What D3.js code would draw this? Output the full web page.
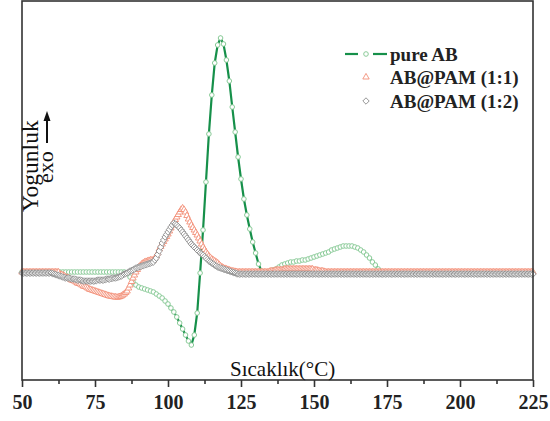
<!DOCTYPE html>
<html><head><meta charset="utf-8">
<script src="https://cdn.jsdelivr.net/npm/d3@7"></script>
<style>body{margin:0;background:#fff}svg{display:block}</style>
</head><body><svg id="c" width="550" height="421"></svg>
<script>
// temperature of first sample and sampling steps (°C)
const tempStart = 50;
const pureStep = 1;
const pamStep = 0.5;
const xTicks = [50, 75, 100, 125, 150, 175, 200, 225];
const xMinorTicks = [62.5, 87.5, 112.5, 137.5, 162.5, 187.5, 212.5];
const seriesNames = ["pure AB", "AB@PAM (1:1)", "AB@PAM (1:2)"];
const xLabel = "Sıcaklık(°C)";
const yLabel = "Yogunluk";
const yLabelSub = "exo";

// pure AB, every 1 °C from 50 to 225
const pureAB = [
  0.01,0.01,0.01,0.01,0.01,0.01,0.01,0.01,0.01,0.01,
  0.01,0.01,0.01,0.01,0.01,0.01,0.01,0.01,0.01,0.01,
  0.01,0.01,0.01,0.01,0.01,0.01,0.01,0.01,0.01,0.01,
  0.01,0.01,0.01,0.01,0.01,0.01,0.0,-0.04,-0.09,-0.12,
  -0.14,-0.15,-0.16,-0.17,-0.18,-0.19,-0.21,-0.23,-0.25,-0.28,
  -0.31,-0.35,-0.39,-0.44,-0.50,-0.56,-0.62,-0.68,-0.72,-0.62,
  -0.40,0.0,0.43,0.91,1.39,1.78,2.10,2.28,2.35,2.29,
  2.13,1.92,1.66,1.41,1.16,0.94,0.74,0.58,0.44,0.31,
  0.20,0.09,0.02,0.0,0.01,0.02,0.03,0.04,0.06,0.08,
  0.09,0.10,0.11,0.11,0.12,0.12,0.13,0.13,0.14,0.15,
  0.16,0.17,0.18,0.19,0.20,0.21,0.23,0.24,0.25,0.26,
  0.27,0.27,0.27,0.27,0.26,0.25,0.23,0.21,0.18,0.15,
  0.11,0.08,0.04,0.01,0,0,0,0,0,0,
  0,0,0,0,0,0,0,0,0,0,
  0,0,0,0,0,0,0,0,0,0,
  0,0,0,0,0,0,0,0,0,0,
  0,0,0,0,0,0,0,0,0,0,
  0,0,0,0,0,0
];
// AB@PAM (1:1), every 0.5 °C from 50 to 225 (one row = 5 °C)
const pam11 = [
  0.01,0.01,0.01,0.01,0.01,0.01,0.01,0.01,0.01,0.01,
  0.01,0.01,0.01,0.01,0.01,0.01,0.01,0.01,0.01,0.01,
  0.01,0.01,0.01,0.01,0.01,0.01,-0.01,-0.015,-0.02,-0.03,
  -0.04,-0.045,-0.05,-0.06,-0.07,-0.075,-0.08,-0.09,-0.10,-0.105,
  -0.11,-0.12,-0.13,-0.135,-0.14,-0.15,-0.16,-0.165,-0.17,-0.175,
  -0.18,-0.185,-0.19,-0.195,-0.20,-0.205,-0.21,-0.215,-0.22,-0.225,
  -0.23,-0.232,-0.235,-0.238,-0.24,-0.242,-0.24,-0.236,-0.23,-0.22,
  -0.21,-0.195,-0.18,-0.15,-0.12,-0.085,-0.05,-0.02,0.01,0.035,
  0.06,0.075,0.09,0.10,0.11,0.115,0.12,0.125,0.13,0.13,
  0.13,0.15,0.17,0.20,0.24,0.265,0.29,0.315,0.34,0.365,
  0.39,0.42,0.45,0.48,0.51,0.535,0.56,0.585,0.61,0.635,
  0.65,0.635,0.61,0.575,0.54,0.51,0.48,0.455,0.43,0.405,
  0.38,0.35,0.32,0.29,0.26,0.235,0.21,0.19,0.17,0.155,
  0.14,0.13,0.12,0.11,0.10,0.085,0.07,0.06,0.05,0.045,
  0.04,0.035,0.03,0.025,0.02,0.018,0.015,0.012,0.01,0.01,
  0.01,0.01,0.01,0.01,0.01,0.01,0.01,0.01,0.01,0.01,
  0.01,0.01,0.01,0.01,0.01,0.01,0.01,0.01,0.01,0.01,
  0.02,0.02,0.02,0.025,0.03,0.03,0.03,0.03,0.03,0.035,
  0.04,0.04,0.04,0.04,0.04,0.04,0.04,0.04,0.04,0.04,
  0.04,0.04,0.04,0.04,0.04,0.04,0.04,0.04,0.04,0.04,
  0.03,0.03,0.03,0.025,0.02,0.02,0.02,0.015,0.01,0.01,
  0.01,0.01,0.01,0.01,0.01,0.01,0.01,0.01,0.01,0.01,
  0.01,0.01,0.01,0.01,0.01,0.01,0.01,0.01,0.01,0.01,
  0.01,0.01,0.01,0.01,0.01,0.01,0.01,0.01,0.01,0.01,
  0.01,0.01,0.01,0.01,0.01,0.01,0.01,0.01,0.01,0.01,
  0.01,0.01,0.01,0.01,0.01,0.01,0.01,0.01,0.01,0.01,
  0.01,0.01,0.01,0.01,0.01,0.01,0.01,0.01,0.01,0.01,
  0.01,0.01,0.01,0.01,0.01,0.01,0.01,0.01,0.01,0.01,
  0.01,0.01,0.01,0.01,0.01,0.01,0.01,0.01,0.01,0.01,
  0.01,0.01,0.01,0.01,0.01,0.01,0.01,0.01,0.01,0.01,
  0.01,0.01,0.01,0.01,0.01,0.01,0.01,0.01,0.01,0.01,
  0.01,0.01,0.01,0.01,0.01,0.01,0.01,0.01,0.01,0.01,
  0.01,0.01,0.01,0.01,0.01,0.01,0.01,0.01,0.01,0.01,
  0.01,0.01,0.01,0.01,0.01,0.01,0.01,0.01,0.01,0.01,
  0.01,0.01,0.01,0.01,0.01,0.01,0.01,0.01,0.01,0.01,
  0.01
];
// AB@PAM (1:2), every 0.5 °C from 50 to 225 (one row = 5 °C)
const pam12 = [
  0,0,0,0,0,0,0,0,0,0,
  0,0,0,0,0,0,0,0,0,0,
  0,-0.005,-0.01,-0.015,-0.02,-0.025,-0.03,-0.035,-0.04,-0.045,
  -0.05,-0.05,-0.05,-0.055,-0.06,-0.06,-0.06,-0.065,-0.07,-0.07,
  -0.07,-0.075,-0.08,-0.08,-0.08,-0.08,-0.08,-0.08,-0.08,-0.08,
  -0.08,-0.075,-0.07,-0.07,-0.07,-0.07,-0.07,-0.065,-0.06,-0.06,
  -0.06,-0.055,-0.05,-0.05,-0.05,-0.045,-0.04,-0.035,-0.03,-0.02,
  -0.01,-0.005,0.0,0.01,0.02,0.025,0.03,0.04,0.05,0.055,
  0.06,0.065,0.07,0.075,0.08,0.085,0.09,0.095,0.10,0.105,
  0.11,0.13,0.15,0.185,0.22,0.26,0.30,0.33,0.36,0.385,
  0.41,0.435,0.46,0.48,0.50,0.49,0.48,0.465,0.45,0.43,
  0.41,0.39,0.37,0.35,0.33,0.31,0.29,0.275,0.26,0.245,
  0.23,0.215,0.20,0.19,0.18,0.165,0.15,0.135,0.12,0.11,
  0.10,0.09,0.08,0.07,0.06,0.055,0.05,0.045,0.04,0.035,
  0.03,0.025,0.02,0.015,0.01,0.005,0.0,-0.005,-0.01,-0.01,
  -0.01,-0.01,-0.01,-0.01,-0.01,-0.01,-0.01,-0.01,-0.01,-0.01,
  -0.01,-0.01,-0.01,-0.01,-0.01,-0.01,-0.01,-0.01,-0.01,-0.01,
  -0.01,-0.01,-0.01,-0.01,-0.01,-0.01,-0.01,-0.01,-0.01,-0.01,
  -0.01,-0.01,-0.01,-0.01,-0.01,-0.01,-0.01,-0.01,-0.01,-0.01,
  -0.01,-0.01,-0.01,-0.01,-0.01,-0.01,-0.01,-0.01,-0.01,-0.01,
  -0.01,-0.01,-0.01,-0.01,-0.01,-0.01,-0.01,-0.01,-0.01,-0.01,
  -0.01,-0.01,-0.01,-0.01,-0.01,-0.01,-0.01,-0.01,-0.01,-0.01,
  -0.01,-0.01,-0.01,-0.01,-0.01,-0.01,-0.01,-0.01,-0.01,-0.01,
  -0.01,-0.01,-0.01,-0.01,-0.01,-0.01,-0.01,-0.01,-0.01,-0.01,
  -0.01,-0.01,-0.01,-0.01,-0.01,-0.01,-0.01,-0.01,-0.01,-0.01,
  -0.01,-0.01,-0.01,-0.01,-0.01,-0.01,-0.01,-0.01,-0.01,-0.01,
  -0.01,-0.01,-0.01,-0.01,-0.01,-0.01,-0.01,-0.01,-0.01,-0.01,
  -0.01,-0.01,-0.01,-0.01,-0.01,-0.01,-0.01,-0.01,-0.01,-0.01,
  -0.01,-0.01,-0.01,-0.01,-0.01,-0.01,-0.01,-0.01,-0.01,-0.01,
  -0.01,-0.01,-0.01,-0.01,-0.01,-0.01,-0.01,-0.01,-0.01,-0.01,
  -0.01,-0.01,-0.01,-0.01,-0.01,-0.01,-0.01,-0.01,-0.01,-0.01,
  -0.01,-0.01,-0.01,-0.01,-0.01,-0.01,-0.01,-0.01,-0.01,-0.01,
  -0.01,-0.01,-0.01,-0.01,-0.01,-0.01,-0.01,-0.01,-0.01,-0.01,
  -0.01,-0.01,-0.01,-0.01,-0.01,-0.01,-0.01,-0.01,-0.01,-0.01,
  -0.01,-0.01,-0.01,-0.01,-0.01,-0.01,-0.01,-0.01,-0.01,-0.01,
  -0.01
];

const svg = d3.select("#c");
const serif = "'Liberation Serif','Times New Roman',serif";
const x = d3.scaleLinear().domain([50, 225]).range([22, 533]);
const y = d3.scaleLinear().domain([-1.07, 2.72]).range([380, 1]);

const toPts = (arr, step) => arr.map((v, i) => ({t: tempStart + i * step, v}));
const green = toPts(pureAB, pureStep), red = toPts(pam11, pamStep), grey = toPts(pam12, pamStep);

const triPath = "M0,-3.6L3.2,2L-3.2,2Z";
const diaPath = "M0,-3.2L3.2,0L0,3.2L-3.2,0Z";

// pure AB: line + open circles
const line = d3.line().x(d => x(d.t)).y(d => y(d.v));
svg.append("path").datum(green).attr("d", line)
  .attr("fill", "none").attr("stroke", "#16904a").attr("stroke-width", 2.2);
svg.append("g").selectAll("circle").data(green).join("circle")
  .attr("cx", d => x(d.t)).attr("cy", d => y(d.v)).attr("r", 2.3)
  .attr("fill", "#fff").attr("stroke", "#8acb98").attr("stroke-width", 1);

// 1:1 triangles
svg.append("g").selectAll("path").data(red).join("path")
  .attr("d", triPath).attr("transform", d => `translate(${x(d.t)},${y(d.v)})`)
  .attr("fill", "#fff").attr("stroke", "#f39078").attr("stroke-width", 0.9);

// 1:2 diamonds
svg.append("g").selectAll("path").data(grey).join("path")
  .attr("d", diaPath).attr("transform", d => `translate(${x(d.t)},${y(d.v)})`)
  .attr("fill", "#fff").attr("stroke", "#8a8a8a").attr("stroke-width", 0.9);

// frame
svg.append("rect").attr("x", 22).attr("y", 1).attr("width", 511).attr("height", 379)
  .attr("fill", "none").attr("stroke", "#333").attr("stroke-width", 1.6);

// x axis
const ax = svg.append("g").attr("transform", "translate(0,380)")
  .call(d3.axisBottom(x).tickValues(xTicks).tickSize(7).tickFormat(d3.format("d")));
ax.select(".domain").remove();
ax.selectAll("line").attr("stroke", "#333").attr("stroke-width", 1.6);
ax.selectAll("text").attr("y", 29).attr("dy", 0)
  .style("font-family", serif).style("font-weight", "bold").style("font-size", "20px").attr("fill", "#222");
const axm = svg.append("g").attr("transform", "translate(0,380)")
  .call(d3.axisBottom(x).tickValues(xMinorTicks).tickSize(4).tickFormat(""));
axm.select(".domain").remove();
axm.selectAll("line").attr("stroke", "#333").attr("stroke-width", 1.6);

// x label
svg.append("text").attr("x", 230).attr("y", 376).text(xLabel)
  .style("font-family", serif).style("font-size", "21px").attr("fill", "#111");

// y label
svg.append("text").attr("transform", "translate(38,212) rotate(-90)").text(yLabel)
  .style("font-family", serif).style("font-size", "23.5px").attr("fill", "#111");
svg.append("text").attr("transform", "translate(53,183) rotate(-90)").text(yLabelSub)
  .style("font-family", serif).style("font-size", "22px").attr("fill", "#111");
svg.append("line").attr("x1", 47).attr("x2", 47).attr("y1", 143).attr("y2", 118)
  .attr("stroke", "#111").attr("stroke-width", 2);
svg.append("path").attr("d", "M47,111L43.5,121L50.5,121Z").attr("fill", "#111");

// legend
const lg = svg.append("g");
const rows = [54, 77, 101];
lg.append("line").attr("x1", 345).attr("x2", 358).attr("y1", rows[0]).attr("y2", rows[0])
  .attr("stroke", "#16904a").attr("stroke-width", 2.2);
lg.append("line").attr("x1", 373).attr("x2", 387).attr("y1", rows[0]).attr("y2", rows[0])
  .attr("stroke", "#16904a").attr("stroke-width", 2.2);
lg.append("circle").attr("cx", 366).attr("cy", rows[0]).attr("r", 2.3)
  .attr("fill", "#fff").attr("stroke", "#8acb98").attr("stroke-width", 1);
lg.append("path").attr("d", triPath).attr("transform", `translate(366,${rows[1]})`)
  .attr("fill", "#fff").attr("stroke", "#f39078").attr("stroke-width", 0.9);
lg.append("path").attr("d", diaPath).attr("transform", `translate(366,${rows[2]})`)
  .attr("fill", "#fff").attr("stroke", "#8a8a8a").attr("stroke-width", 0.9);
seriesNames.forEach((n, i) => {
  lg.append("text").attr("x", 390).attr("y", rows[i] + 6.5).text(n)
    .style("font-family", serif).style("font-weight", "bold").style("font-size", "19px").attr("fill", "#222");
});
</script>
</body></html>
